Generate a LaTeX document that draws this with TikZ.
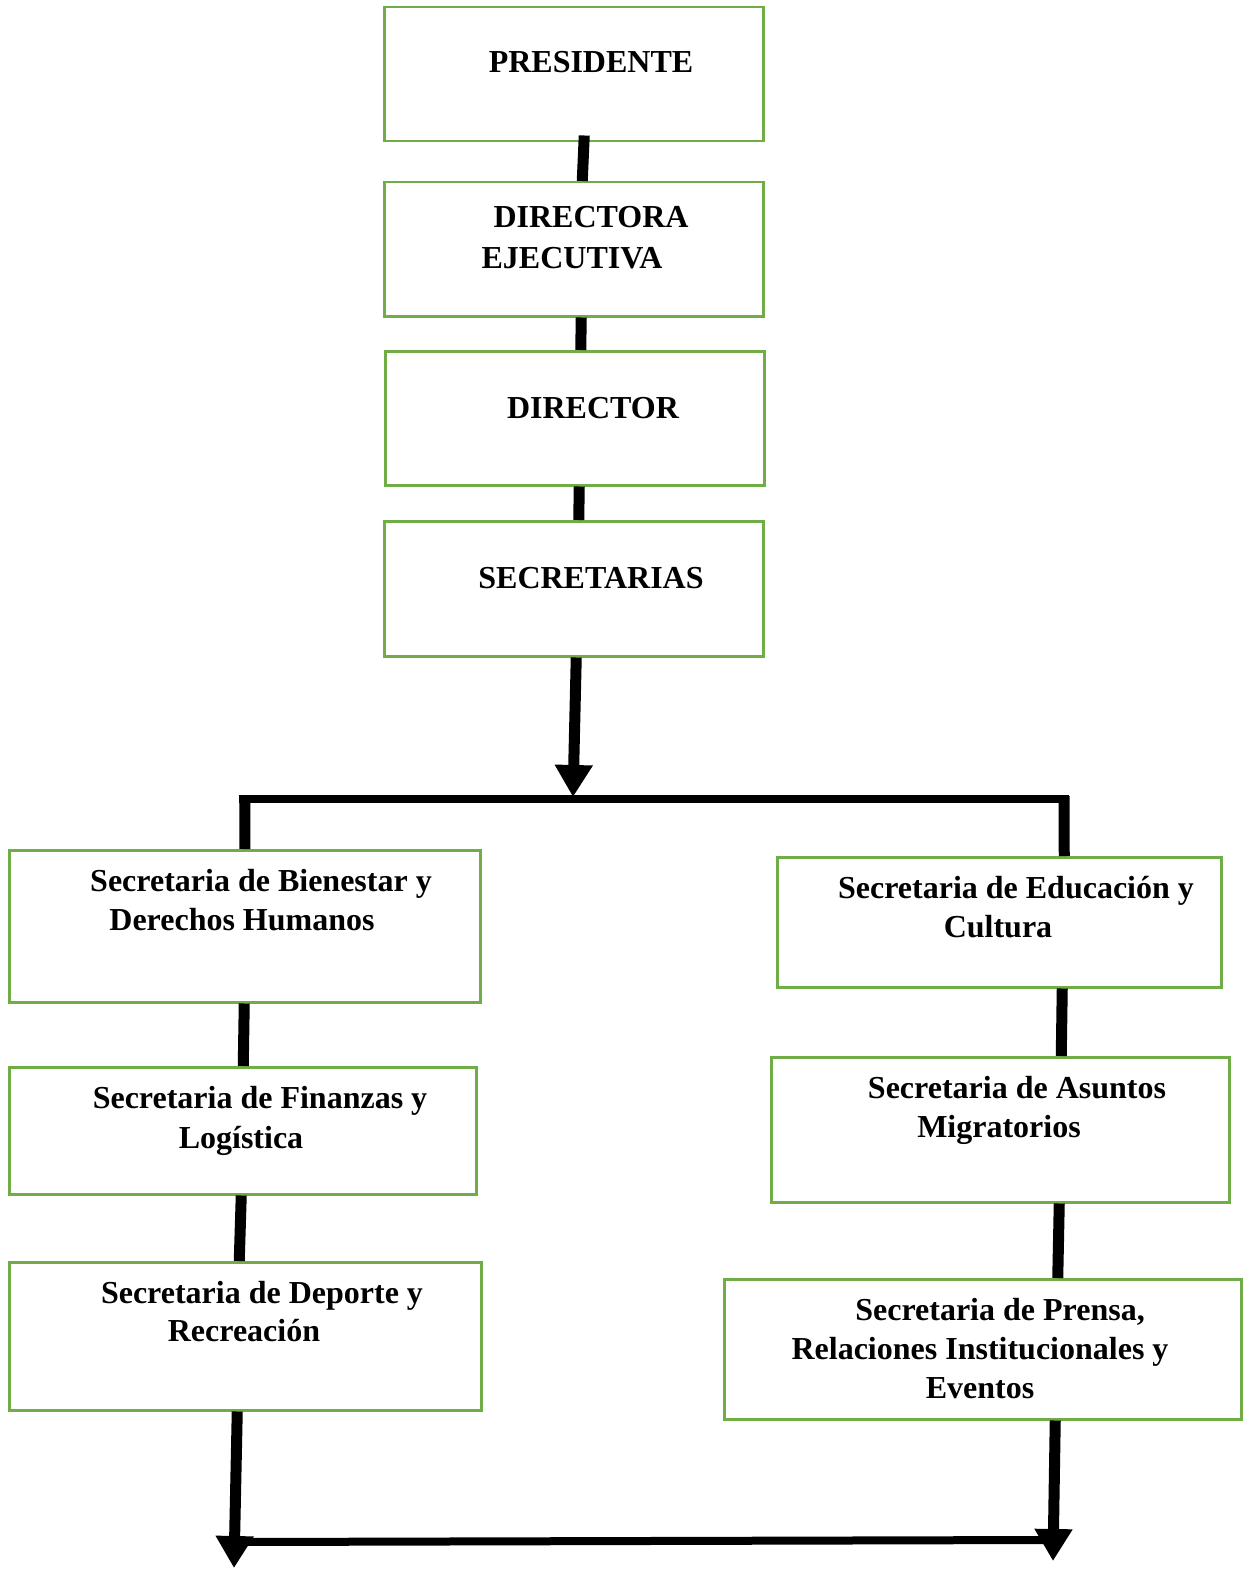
\documentclass[tikz,border=0pt]{standalone}
\usepackage{fontspec}
\setmainfont{Liberation Serif}
\usetikzlibrary{arrows.meta,calc}
\definecolor{boxgreen}{HTML}{70AD47}
\begin{document}
\begin{tikzpicture}[x=1pt,y=-1pt,
  box/.style={draw=boxgreen, line width=2.5pt, inner sep=0pt, anchor=north west},
  txt/.style={anchor=base, inner sep=0pt, font=\fontsize{32}{39}\selectfont\bfseries},
  conn/.style={line width=11pt, black},
  hline/.style={line width=8pt, black},
  arr/.style={line width=11pt, black, -{Triangle[width=36pt,length=32pt]}}]
\useasboundingbox (0,0) rectangle (1246,1570);
% boxes
\node[box, minimum width=379pt, minimum height=134pt] (pres) at (383,6) {};
\node[box, minimum width=379pt, minimum height=134pt] (dexec) at (383,181) {};
\node[box, minimum width=379pt, minimum height=134pt] (dir) at (384,350) {};
\node[box, minimum width=379pt, minimum height=135pt] (secs) at (383,520) {};
\node[box, minimum width=471pt, minimum height=152pt] (bien) at (8,849) {};
\node[box, minimum width=467pt, minimum height=127pt] (fin) at (8,1066) {};
\node[box, minimum width=472pt, minimum height=148pt] (dep) at (8,1261) {};
\node[box, minimum width=444pt, minimum height=130pt] (edu) at (776,856) {};
\node[box, minimum width=458pt, minimum height=145pt] (asu) at (770,1056) {};
\node[box, minimum width=517pt, minimum height=140pt] (pren) at (723,1278) {};
% texts
\node[txt] (t1) at (591,73) {PRESIDENTE};
\node[txt] (t2) at (591,228) {DIRECTORA};
\node[txt] (t3) at (572,268) {EJECUTIVA};
\node[txt] (t4) at (593,418) {DIRECTOR};
\node[txt] (t5) at (591,588) {SECRETARIAS};
\node[txt] (t6) at (261,891) {Secretaria de Bienestar y};
\node[txt] (t7) at (242,930) {Derechos Humanos};
\node[txt] (t8) at (260,1108) {Secretaria de Finanzas y};
\node[txt] (t9) at (241,1148) {Logística};
\node[txt] (t10) at (262,1303) {Secretaria de Deporte y};
\node[txt] (t11) at (244,1341) {Recreación};
\node[txt] (t12) at (1016,898) {Secretaria de Educación y};
\node[txt] (t13) at (998,937) {Cultura};
\node[txt] (t14) at (1017,1098) {Secretaria de Asuntos};
\node[txt] (t15) at (999,1137) {Migratorios};
\node[txt] (t16) at (1000,1320) {Secretaria de Prensa,};
\node[txt] (t17) at (980,1359) {Relaciones Institucionales y};
\node[txt] (t18) at (980,1398) {Eventos};
% junction coordinates
\coordinate (tip1) at (573,797);
\coordinate (hl) at (239,799);
\coordinate (hr) at (1069,799);
\coordinate (bl) at (234,1568);
\coordinate (br) at (1053,1561);
\coordinate (bhl) at (240,1542);
\coordinate (bhr) at (1046,1540);
% top chain
\draw[conn] ($(pres.south)+(10.5,-7)$) -- ($(dexec.north)+(8.5,0)$);
\draw[conn] ($(dexec.south)+(7.5,0)$) -- ($(dir.north)+(6,0)$);
\draw[conn] ($(dir.south)+(4.5,0)$) -- ($(secs.north)+(5,0)$);
\draw[arr] ($(secs.south)+(2.5,0)$) -- (tip1);
% top horizontal
\draw[hline] (hl) -- (hr);
\draw[conn] ($(hl)+(6,-3)$) -- ($(bien.north)+(0,0)$);
\draw[conn] ($(hr)+(-5,-3)$) -- ($(edu.north)+(65,0)$);
% left chain
\draw[conn] ($(bien.south)+(-0.5,0)$) -- ($(fin.north)+(0.5,0)$);
\draw[conn] ($(fin.south)+(-1.5,0)$) -- ($(dep.north)+(-6,0)$);
\draw[arr] ($(dep.south)+(-8,0)$) -- (bl);
% right chain
\draw[conn] ($(edu.south)+(63,0)$) -- ($(asu.north)+(61,0)$);
\draw[conn] ($(asu.south)+(59,0)$) -- ($(pren.north)+(75,0)$);
\draw[arr] ($(pren.south)+(72.5,0)$) -- (br);
% bottom horizontal
\draw[hline] (bhl) -- (bhr);
\end{tikzpicture}
\end{document}
